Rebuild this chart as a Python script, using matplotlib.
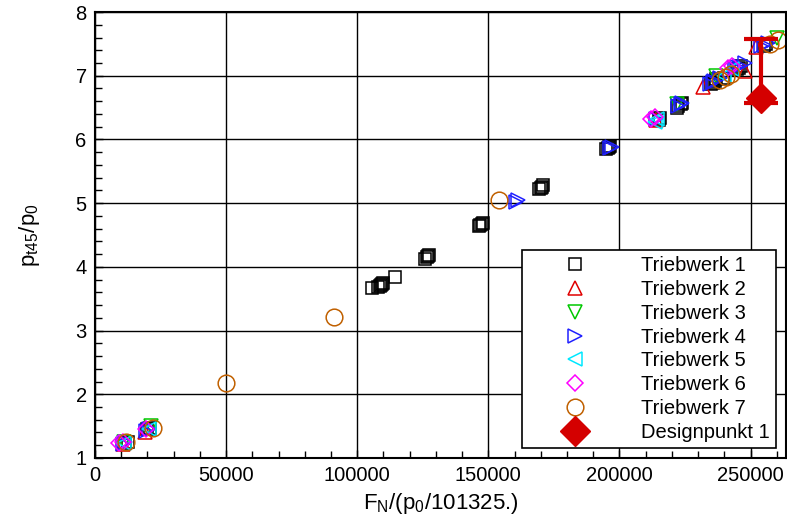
import matplotlib
matplotlib.use("Agg")
import matplotlib.pyplot as plt
from matplotlib.ticker import MultipleLocator

plt.rcParams['font.family'] = ['Liberation Sans', 'DejaVu Sans']
plt.rcParams['mathtext.fontset'] = 'custom'
plt.rcParams['mathtext.rm'] = 'Liberation Sans'
plt.rcParams['mathtext.it'] = 'Liberation Sans'

# Triebwerk 1 .. 7 : thrust F_N/(p0/101325.) vs pressure ratio pt45/p0
tw1_x = [11500, 12500, 20000, 21000, 105500, 108000, 108500, 109000, 109500, 110000, 114500,
         126000, 126500, 127000, 127500, 146500, 147000, 147500, 148000,
         169500, 170000, 170500, 171000, 195000, 195500, 196000, 196500,
         215000, 215500, 222000, 222500, 223500, 224000, 235000, 235500, 236500, 237000,
         240000, 245000, 245500, 246500, 255000, 256000]
tw1_y = [1.24, 1.25, 1.45, 1.47, 3.67, 3.69, 3.70, 3.72, 3.73, 3.74, 3.84,
         4.13, 4.15, 4.17, 4.18, 4.64, 4.66, 4.68, 4.69,
         5.22, 5.24, 5.26, 5.28, 5.85, 5.86, 5.88, 5.89,
         6.31, 6.34, 6.50, 6.52, 6.55, 6.57, 6.87, 6.89, 6.92, 6.95,
         6.97, 7.10, 7.12, 7.15, 7.47, 7.50]

tw2_x = [10500, 19000, 214000, 232000, 248000, 252000]
tw2_y = [1.22, 1.40, 6.30, 6.82, 7.08, 7.45]

tw3_x = [11000, 21500, 222000, 237000, 260000]
tw3_y = [1.25, 1.50, 6.55, 7.00, 7.60]

tw4_x = [10500, 11500, 19500, 20500, 160500, 161500, 196500, 197000, 214000, 222500, 223500,
         224000, 234500, 235500, 236000, 238500, 244000, 245000, 246000, 248000, 254000,
         255000, 256500]
tw4_y = [1.22, 1.25, 1.42, 1.45, 5.02, 5.05, 5.86, 5.88, 6.32, 6.52, 6.55,
         6.57, 6.87, 6.90, 6.92, 6.96, 7.12, 7.14, 7.16, 7.20, 7.47,
         7.49, 7.52]

tw5_x = [11000, 20500, 213500, 214500, 240000, 243000]
tw5_y = [1.23, 1.46, 6.28, 6.32, 7.00, 7.10]

tw6_x = [9000, 10500, 19500, 212000, 213500, 241500, 243000]
tw6_y = [1.24, 1.25, 1.45, 6.32, 6.36, 7.12, 7.16]

tw7_x = [12000, 22000, 50000, 91000, 154000, 238500, 240500, 242500, 257500, 260500]
tw7_y = [1.25, 1.47, 2.17, 3.22, 5.05, 6.93, 6.98, 7.03, 7.50, 7.56]

dp_x = [254000]
dp_y = [6.65]
dp_err_low = [0.07]
dp_err_high = [0.92]

fig = plt.figure(figsize=(7.87, 5.24), dpi=100)
ax = fig.add_axes([0.1207, 0.126, 0.878, 0.851])

ms = 8.5
mew = 1.1
ax.plot(tw1_x, tw1_y, 's', ms=ms, mfc='none', mec='black', mew=mew, label='Triebwerk 1')
ax.plot(tw2_x, tw2_y, '^', ms=ms + 1.5, mfc='none', mec='#e00000', mew=mew, label='Triebwerk 2')
ax.plot(tw3_x, tw3_y, 'v', ms=ms + 1.5, mfc='none', mec='#00c800', mew=mew, label='Triebwerk 3')
ax.plot(tw4_x, tw4_y, '>', ms=ms + 1.5, mfc='none', mec='#2020ff', mew=mew, label='Triebwerk 4')
ax.plot(tw5_x, tw5_y, '<', ms=ms + 1.5, mfc='none', mec='#00e8ff', mew=mew, label='Triebwerk 5')
ax.plot(tw6_x, tw6_y, 'D', ms=ms, mfc='none', mec='#ff00ff', mew=mew, label='Triebwerk 6')
ax.plot(tw7_x, tw7_y, 'o', ms=12, mfc='none', mec='#c06000', mew=mew, label='Triebwerk 7')
ax.errorbar(dp_x, dp_y, yerr=[dp_err_low, dp_err_high], fmt='none',
            ecolor='#d40000', elinewidth=3, capsize=12, capthick=3)
ax.plot(dp_x, dp_y, 'D', ms=15, color='#d40000', label='Designpunkt 1')

ax.set_xlim(0, 263500)
ax.set_ylim(1, 8)
ax.xaxis.set_major_locator(MultipleLocator(50000))
ax.xaxis.set_minor_locator(MultipleLocator(10000))
ax.yaxis.set_major_locator(MultipleLocator(1))
ax.yaxis.set_minor_locator(MultipleLocator(0.2))
ax.tick_params(which='both', direction='in', labelsize=14.5, colors='black')
ax.tick_params(which='major', length=6, width=1, pad=6)
ax.tick_params(which='minor', length=5, width=1)
ax.grid(True, which='major', color='black', linewidth=1)
for s in ax.spines.values():
    s.set_linewidth(1.5)

ax.set_xlabel(r'F$_\mathregular{N}$/(p$_\mathregular{0}$/101325.)', fontsize=16, labelpad=4)
ax.set_ylabel(r'p$_\mathregular{t45}$/p$_\mathregular{0}$', fontsize=16, labelpad=24)

leg = ax.legend(loc='lower right', bbox_to_anchor=(1 - 10 / 691, 10 / 446), fontsize=14.5,
                fancybox=False, framealpha=1, edgecolor='black', borderpad=0.3,
                labelspacing=0.24, handletextpad=1.0, borderaxespad=0, handlelength=4.6)
leg.get_frame().set_linewidth(1.2)

fig.savefig('out.png', dpi=100)
